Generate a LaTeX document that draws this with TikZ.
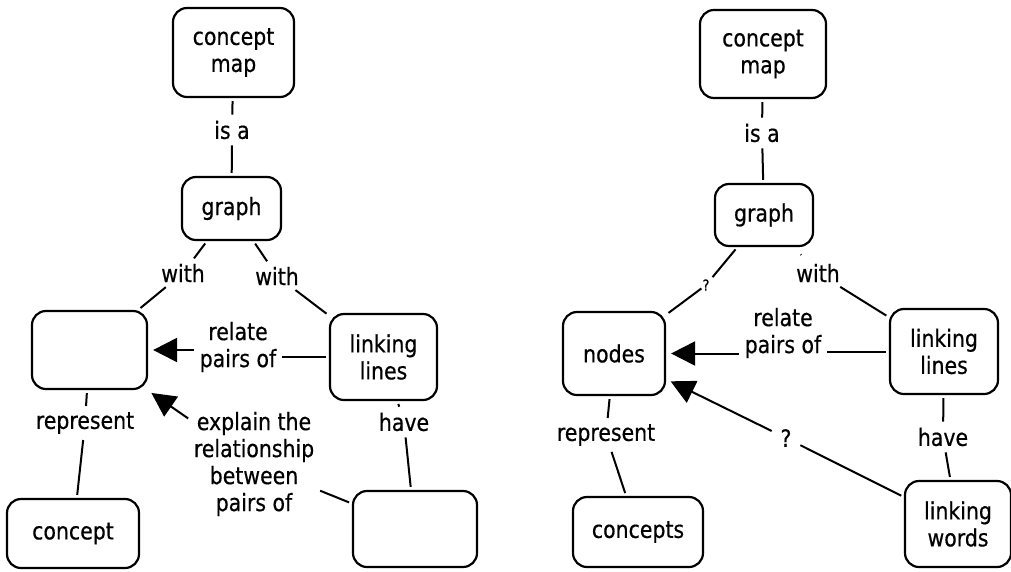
\documentclass[tikz,border=0pt]{standalone}
\usepackage{fontspec}
\setmainfont{DejaVu Sans}[FakeStretch=0.86,FakeBold=0.5]
\usetikzlibrary{arrows.meta}

\begin{document}
\begin{tikzpicture}[x=1pt,y=-1pt,
  font=\fontsize{23.8}{27}\selectfont,
  cbox/.style={draw,line width=2.2pt,rounded corners=14pt,align=center,inner sep=0pt},
  lbl/.style={align=center,inner sep=3pt},
  con/.style={line width=2pt,shorten <=3pt,shorten >=3pt},
  arr/.style={con,shorten >=5pt,-{Triangle[length=24pt,width=24pt]}}]
\useasboundingbox (0,0) rectangle (1011,571);
% Left
\node[cbox,minimum width=121pt,minimum height=89pt] (lmap) at (233.5,52.5) {concept\\map};
\node[lbl] (lisa) at (232,130) {is a};
\node[cbox,minimum width=99pt,minimum height=63pt] (lgraph) at (231.5,208.5) {graph};
\node[lbl] (lwith1) at (183,273) {with};
\node[lbl] (lwith2) at (277,276) {with};
\node[cbox,minimum width=115pt,minimum height=78pt] (lnodes) at (89.5,350) {};
\node[cbox,minimum width=107pt,minimum height=86pt] (llines) at (383.5,357) {linking\\lines};
\node[lbl] (lrelate) at (238,347) {relate\\pairs of};
\node[lbl] (lrep) at (85,423) {represent};
\node[cbox,minimum width=132pt,minimum height=69pt] (lconcept) at (73,533.5) {concept};
\node[lbl] (lexplain) at (254,464) {explain the\\relationship\\between\\pairs of};
\node[lbl] (lhave) at (404,422) {have};
\node[cbox,minimum width=124pt,minimum height=76pt] (lwords) at (415,529) {};
\draw[con] (lmap) -- (lisa);
\draw[con] (lisa) -- (lgraph);
\draw[con] (lgraph) -- (lwith1);
\draw[con] (lwith1) -- (lnodes);
\draw[con] (lgraph) -- (lwith2);
\draw[con] (lwith2) -- (llines);
\draw[con] (llines) -- (lrelate.east |- llines);
\draw[arr] (lrelate.west |- lnodes) -- (lnodes);
\draw[con] (lnodes) -- (lrep);
\draw[con] (lrep) -- (lconcept);
\draw[con] (lwords) -- (lexplain);
\draw[arr] (lexplain) -- (lnodes);
\draw[con] (llines) -- (lhave);
\draw[con] (lhave) -- (lwords);
% Right
\node[cbox,minimum width=126pt,minimum height=88pt] (rmap) at (763,54) {concept\\map};
\node[lbl] (risa) at (762,133) {is a};
\node[cbox,minimum width=98pt,minimum height=62pt] (rgraph) at (764,215) {graph};
\node[lbl,inner sep=1pt,font=\fontsize{15}{16}\selectfont] (rq1) at (706,285) {?};
\node[lbl] (rwith) at (818,273) {with};
\node[cbox,minimum width=102pt,minimum height=83pt] (rnodes) at (614,353.5) {nodes};
\node[cbox,minimum width=108pt,minimum height=85pt] (rlines) at (944,351.5) {linking\\lines};
\node[lbl] (rrelate) at (783,333) {relate\\pairs of};
\node[lbl] (rrep) at (606,435) {represent};
\node[cbox,minimum width=130pt,minimum height=70pt] (rconcepts) at (638,532) {concepts};
\node[lbl] (rhave) at (943,437) {have};
\node[cbox,minimum width=106pt,minimum height=86pt] (rwords) at (958,524) {linking\\words};
\node[lbl,inner sep=6pt] (rq2) at (786,438) {?};
\draw[con] (rmap) -- (risa);
\draw[con] (risa) -- (rgraph);
\draw[con] (rgraph) -- (rq1);
\draw[con,shorten <=0pt] (rq1) -- (rnodes);
\draw[con,shorten <=10pt,shorten >=8pt] (rgraph) -- (rwith);
\draw[con] (rwith) -- (rlines);
\draw[con] (rlines) -- (rrelate.east |- rlines);
\draw[arr] (rrelate.west |- rnodes) -- (rnodes);
\draw[con] (rnodes) -- (rrep);
\draw[con] (rrep) -- (rconcepts);
\draw[con] (rlines) -- (rhave);
\draw[con] (rhave) -- (rwords);
\draw[con] (rwords) -- (rq2);
\draw[arr] (rq2) -- (rnodes);
\end{tikzpicture}
\end{document}
